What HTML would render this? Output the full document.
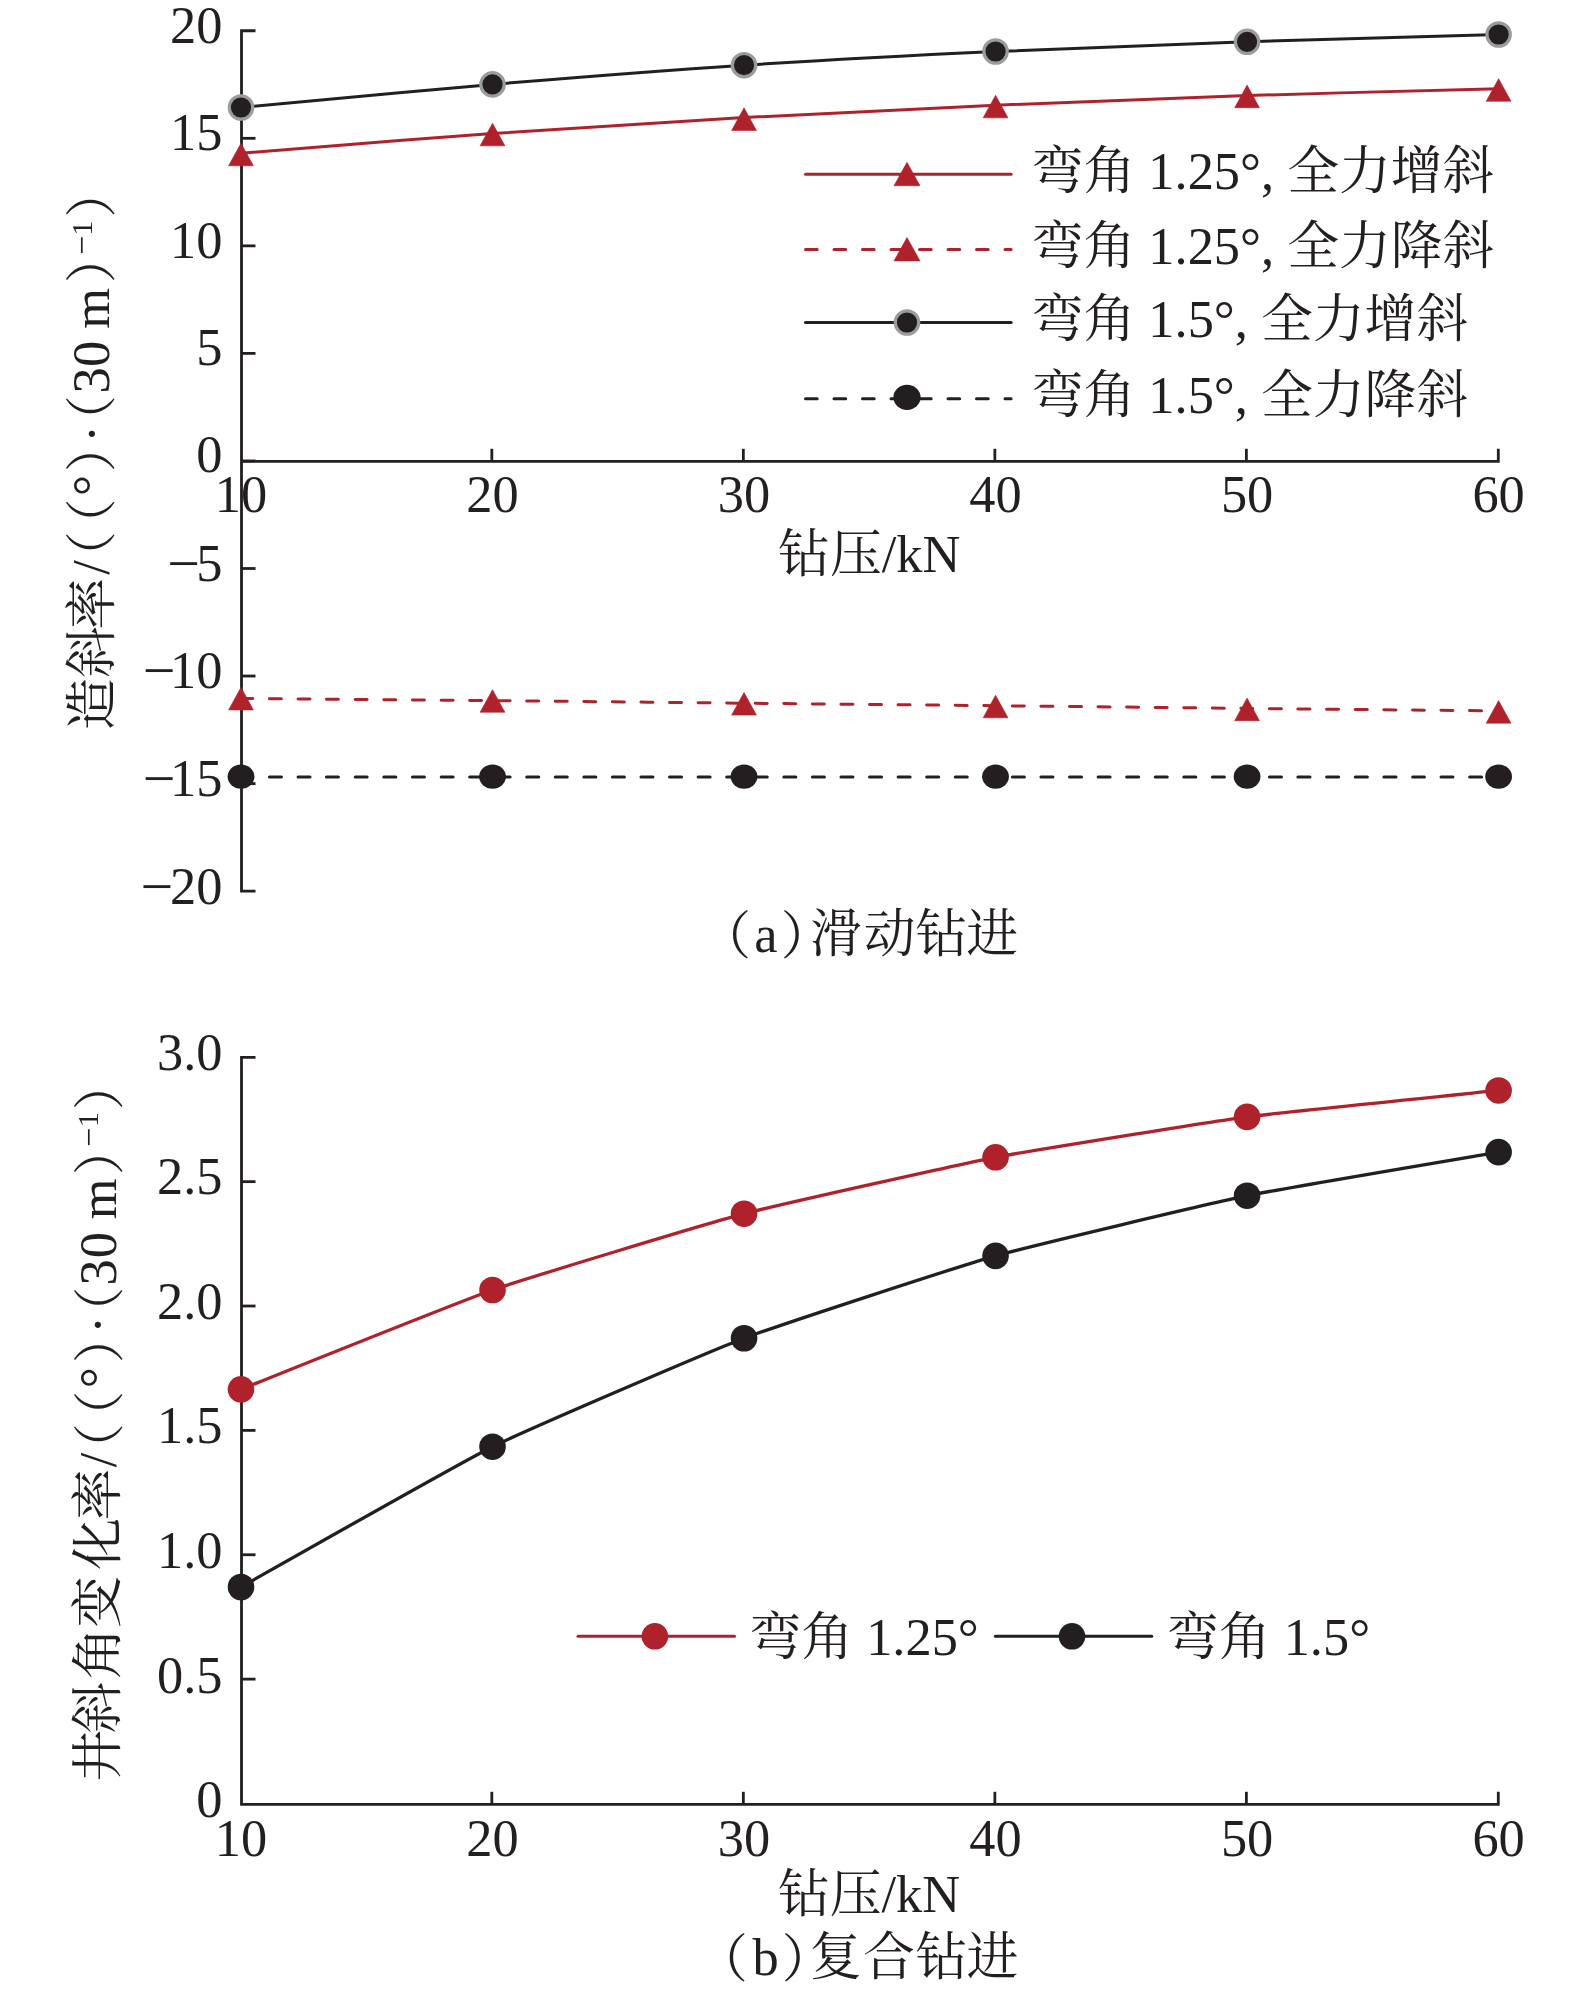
<!DOCTYPE html><html><head><meta charset="utf-8"><title>chart</title><style>html,body{margin:0;padding:0;background:#fff;}svg{display:block;}text{font-family:"Liberation Serif", "Noto Serif CJK SC", serif;fill:#231f20;}</style></head><body>
<svg width="1575" height="1993" viewBox="0 0 1575 1993">
<rect width="1575" height="1993" fill="#fff"/>
<path d="M255.50,30.76 H241.50 V891.12 H255.50" fill="none" stroke="#231f20" stroke-width="2.80"/>
<line x1="241.50" y1="138.31" x2="255.50" y2="138.31" stroke="#231f20" stroke-width="2.80"/>
<line x1="241.50" y1="245.85" x2="255.50" y2="245.85" stroke="#231f20" stroke-width="2.80"/>
<line x1="241.50" y1="353.39" x2="255.50" y2="353.39" stroke="#231f20" stroke-width="2.80"/>
<line x1="241.50" y1="460.94" x2="255.50" y2="460.94" stroke="#231f20" stroke-width="2.80"/>
<line x1="241.50" y1="568.49" x2="255.50" y2="568.49" stroke="#231f20" stroke-width="2.80"/>
<line x1="241.50" y1="676.03" x2="255.50" y2="676.03" stroke="#231f20" stroke-width="2.80"/>
<line x1="241.50" y1="783.58" x2="255.50" y2="783.58" stroke="#231f20" stroke-width="2.80"/>
<path d="M241.50,461.30 H1498.30 V448.80" fill="none" stroke="#231f20" stroke-width="2.80"/>
<line x1="491.82" y1="461.30" x2="491.82" y2="448.80" stroke="#231f20" stroke-width="2.80"/>
<line x1="743.34" y1="461.30" x2="743.34" y2="448.80" stroke="#231f20" stroke-width="2.80"/>
<line x1="994.86" y1="461.30" x2="994.86" y2="448.80" stroke="#231f20" stroke-width="2.80"/>
<line x1="1246.38" y1="461.30" x2="1246.38" y2="448.80" stroke="#231f20" stroke-width="2.80"/>
<text x="222.5" y="42.70" text-anchor="end" font-size="52.4">20</text>
<text x="222.5" y="149.90" text-anchor="end" font-size="52.4">15</text>
<text x="222.5" y="258.10" text-anchor="end" font-size="52.4">10</text>
<text x="222.5" y="365.00" text-anchor="end" font-size="52.4">5</text>
<text x="222.5" y="472.20" text-anchor="end" font-size="52.4">0</text>
<text x="222.5" y="581.20" text-anchor="end" font-size="52.4">5</text>
<text x="167.33" y="583.10" font-size="58.0">−</text>
<text x="222.5" y="688.40" text-anchor="end" font-size="52.4">10</text>
<text x="142.70" y="690.30" font-size="58.0">−</text>
<text x="222.5" y="796.00" text-anchor="end" font-size="52.4">15</text>
<text x="142.70" y="797.90" font-size="58.0">−</text>
<text x="222.5" y="903.70" text-anchor="end" font-size="52.4">20</text>
<text x="140.39" y="905.60" font-size="58.0">−</text>
<text x="241.00" y="511.9" text-anchor="middle" font-size="52.4">10</text>
<text x="492.52" y="511.9" text-anchor="middle" font-size="52.4">20</text>
<text x="744.04" y="511.9" text-anchor="middle" font-size="52.4">30</text>
<text x="995.56" y="511.9" text-anchor="middle" font-size="52.4">40</text>
<text x="1247.08" y="511.9" text-anchor="middle" font-size="52.4">50</text>
<text x="1498.60" y="511.9" text-anchor="middle" font-size="52.4">60</text>
<path d="M241.00,107.50 C282.92,103.65 408.68,91.45 492.52,84.40 C576.36,77.35 660.20,70.68 744.04,65.20 C827.88,59.72 911.72,55.40 995.56,51.50 C1079.40,47.60 1163.24,44.63 1247.08,41.80 C1330.92,38.97 1456.68,35.72 1498.60,34.50" fill="none" stroke="#231f20" stroke-width="3.00"/>
<path d="M241.00,153.20 C282.92,149.92 408.68,139.43 492.52,133.50 C576.36,127.57 660.20,122.32 744.04,117.60 C827.88,112.88 911.72,108.87 995.56,105.20 C1079.40,101.53 1163.24,98.33 1247.08,95.60 C1330.92,92.87 1456.68,89.93 1498.60,88.80" fill="none" stroke="#b0222b" stroke-width="3.00"/>
<path d="M241.00,698.50 C282.92,698.85 408.68,699.82 492.52,700.60 C576.36,701.38 660.20,702.35 744.04,703.20 C827.88,704.05 911.72,704.83 995.56,705.70 C1079.40,706.57 1163.24,707.53 1247.08,708.40 C1330.92,709.27 1456.68,710.48 1498.60,710.90" fill="none" stroke="#b0222b" stroke-width="3.00" stroke-dasharray="12 16.57" stroke-linecap="round"/>
<path d="M241.00,777.10 C282.92,777.10 408.68,777.10 492.52,777.10 C576.36,777.10 660.20,777.10 744.04,777.10 C827.88,777.10 911.72,777.10 995.56,777.10 C1079.40,777.10 1163.24,777.10 1247.08,777.10 C1330.92,777.10 1456.68,777.10 1498.60,777.10" fill="none" stroke="#231f20" stroke-width="3.00" stroke-dasharray="12 16.57" stroke-linecap="round"/>
<circle cx="241.00" cy="107.50" r="11.7" fill="#231f20" stroke="#9a9c9f" stroke-width="3.2"/>
<circle cx="492.52" cy="84.40" r="11.7" fill="#231f20" stroke="#9a9c9f" stroke-width="3.2"/>
<circle cx="744.04" cy="65.20" r="11.7" fill="#231f20" stroke="#9a9c9f" stroke-width="3.2"/>
<circle cx="995.56" cy="51.50" r="11.7" fill="#231f20" stroke="#9a9c9f" stroke-width="3.2"/>
<circle cx="1247.08" cy="41.80" r="11.7" fill="#231f20" stroke="#9a9c9f" stroke-width="3.2"/>
<circle cx="1498.60" cy="34.50" r="11.7" fill="#231f20" stroke="#9a9c9f" stroke-width="3.2"/>
<path d="M241.00,143.20 L253.40,165.80 L228.60,165.80 Z" fill="#b0222b" stroke="#b0222b" stroke-width="0.6" stroke-linejoin="round"/>
<path d="M492.52,123.25 L504.92,145.85 L480.12,145.85 Z" fill="#b0222b" stroke="#b0222b" stroke-width="0.6" stroke-linejoin="round"/>
<path d="M744.04,107.85 L756.44,130.45 L731.64,130.45 Z" fill="#b0222b" stroke="#b0222b" stroke-width="0.6" stroke-linejoin="round"/>
<path d="M995.56,95.25 L1007.96,117.85 L983.16,117.85 Z" fill="#b0222b" stroke="#b0222b" stroke-width="0.6" stroke-linejoin="round"/>
<path d="M1247.08,85.10 L1259.48,107.70 L1234.68,107.70 Z" fill="#b0222b" stroke="#b0222b" stroke-width="0.6" stroke-linejoin="round"/>
<path d="M1498.60,78.70 L1511.00,101.30 L1486.20,101.30 Z" fill="#b0222b" stroke="#b0222b" stroke-width="0.6" stroke-linejoin="round"/>
<path d="M241.00,687.35 L253.40,709.95 L228.60,709.95 Z" fill="#b0222b" stroke="#b0222b" stroke-width="0.6" stroke-linejoin="round"/>
<path d="M492.52,689.65 L504.92,712.25 L480.12,712.25 Z" fill="#b0222b" stroke="#b0222b" stroke-width="0.6" stroke-linejoin="round"/>
<path d="M744.04,692.50 L756.44,715.10 L731.64,715.10 Z" fill="#b0222b" stroke="#b0222b" stroke-width="0.6" stroke-linejoin="round"/>
<path d="M995.56,695.20 L1007.96,717.80 L983.16,717.80 Z" fill="#b0222b" stroke="#b0222b" stroke-width="0.6" stroke-linejoin="round"/>
<path d="M1247.08,698.10 L1259.48,720.70 L1234.68,720.70 Z" fill="#b0222b" stroke="#b0222b" stroke-width="0.6" stroke-linejoin="round"/>
<path d="M1498.60,700.60 L1511.00,723.20 L1486.20,723.20 Z" fill="#b0222b" stroke="#b0222b" stroke-width="0.6" stroke-linejoin="round"/>
<ellipse cx="241.00" cy="776.60" rx="13.40" ry="12.20" fill="#231f20"/>
<ellipse cx="492.52" cy="776.60" rx="13.40" ry="12.20" fill="#231f20"/>
<ellipse cx="744.04" cy="776.60" rx="13.40" ry="12.20" fill="#231f20"/>
<ellipse cx="995.56" cy="776.60" rx="13.40" ry="12.20" fill="#231f20"/>
<ellipse cx="1247.08" cy="776.60" rx="13.40" ry="12.20" fill="#231f20"/>
<ellipse cx="1498.60" cy="776.60" rx="13.40" ry="12.20" fill="#231f20"/>
<line x1="805.50" y1="174.30" x2="1011.10" y2="174.30" stroke="#b0222b" stroke-width="3.00" stroke-linecap="round"/>
<path d="M907.00,162.30 L920.00,185.70 L894.00,185.70 Z" fill="#b0222b" stroke="#b0222b" stroke-width="0.6" stroke-linejoin="round"/>
<text><tspan x="1031.67" y="188.60" font-size="51.8">弯</tspan><tspan x="1083.47" y="188.60" font-size="51.8">角</tspan><tspan x="1148.37" y="188.60" font-size="52.4">1</tspan><tspan x="1174.57" y="188.60" font-size="52.4">.</tspan><tspan x="1187.67" y="188.60" font-size="52.4">2</tspan><tspan x="1213.87" y="188.60" font-size="52.4">5</tspan><tspan x="1240.07" y="188.60" font-size="52.4">°</tspan><tspan x="1261.02" y="188.60" font-size="52.4">,</tspan><tspan x="1287.22" y="188.60" font-size="51.8">全</tspan><tspan x="1339.02" y="188.60" font-size="51.8">力</tspan><tspan x="1390.82" y="188.60" font-size="51.8">增</tspan><tspan x="1442.62" y="188.60" font-size="51.8">斜</tspan></text>
<line x1="805.50" y1="249.50" x2="1011.10" y2="249.50" stroke="#b0222b" stroke-width="3.00" stroke-dasharray="11.7 16.8" stroke-linecap="round"/>
<path d="M907.00,237.50 L920.00,260.90 L894.00,260.90 Z" fill="#b0222b" stroke="#b0222b" stroke-width="0.6" stroke-linejoin="round"/>
<text><tspan x="1031.67" y="263.80" font-size="51.8">弯</tspan><tspan x="1083.47" y="263.80" font-size="51.8">角</tspan><tspan x="1148.37" y="263.80" font-size="52.4">1</tspan><tspan x="1174.57" y="263.80" font-size="52.4">.</tspan><tspan x="1187.67" y="263.80" font-size="52.4">2</tspan><tspan x="1213.87" y="263.80" font-size="52.4">5</tspan><tspan x="1240.07" y="263.80" font-size="52.4">°</tspan><tspan x="1261.02" y="263.80" font-size="52.4">,</tspan><tspan x="1287.22" y="263.80" font-size="51.8">全</tspan><tspan x="1339.02" y="263.80" font-size="51.8">力</tspan><tspan x="1390.82" y="263.80" font-size="51.8">降</tspan><tspan x="1442.62" y="263.80" font-size="51.8">斜</tspan></text>
<line x1="805.50" y1="322.50" x2="1011.10" y2="322.50" stroke="#231f20" stroke-width="3.00" stroke-linecap="round"/>
<circle cx="907.00" cy="322.50" r="11.7" fill="#231f20" stroke="#9a9c9f" stroke-width="3.2"/>
<text><tspan x="1031.67" y="336.80" font-size="51.8">弯</tspan><tspan x="1083.47" y="336.80" font-size="51.8">角</tspan><tspan x="1148.37" y="336.80" font-size="52.4">1</tspan><tspan x="1174.57" y="336.80" font-size="52.4">.</tspan><tspan x="1187.67" y="336.80" font-size="52.4">5</tspan><tspan x="1213.87" y="336.80" font-size="52.4">°</tspan><tspan x="1234.82" y="336.80" font-size="52.4">,</tspan><tspan x="1261.02" y="336.80" font-size="51.8">全</tspan><tspan x="1312.82" y="336.80" font-size="51.8">力</tspan><tspan x="1364.62" y="336.80" font-size="51.8">增</tspan><tspan x="1416.42" y="336.80" font-size="51.8">斜</tspan></text>
<line x1="805.50" y1="398.80" x2="1011.10" y2="398.80" stroke="#231f20" stroke-width="3.00" stroke-dasharray="11.7 16.8" stroke-linecap="round"/>
<ellipse cx="907.00" cy="397.30" rx="13.60" ry="12.60" fill="#231f20"/>
<text><tspan x="1031.67" y="413.10" font-size="51.8">弯</tspan><tspan x="1083.47" y="413.10" font-size="51.8">角</tspan><tspan x="1148.37" y="413.10" font-size="52.4">1</tspan><tspan x="1174.57" y="413.10" font-size="52.4">.</tspan><tspan x="1187.67" y="413.10" font-size="52.4">5</tspan><tspan x="1213.87" y="413.10" font-size="52.4">°</tspan><tspan x="1234.82" y="413.10" font-size="52.4">,</tspan><tspan x="1261.02" y="413.10" font-size="51.8">全</tspan><tspan x="1312.82" y="413.10" font-size="51.8">力</tspan><tspan x="1364.62" y="413.10" font-size="51.8">降</tspan><tspan x="1416.42" y="413.10" font-size="51.8">斜</tspan></text>
<text><tspan x="778.11" y="571.60" font-size="51.8">钻</tspan><tspan x="829.90" y="571.60" font-size="51.8">压</tspan><tspan x="881.70" y="571.60" font-size="52.4">/</tspan><tspan x="896.26" y="571.60" font-size="52.4">k</tspan><tspan x="922.46" y="571.60" font-size="52.4">N</tspan></text>
<text><tspan x="699.18" y="953.50" font-size="51.8">（</tspan><tspan x="754.17" y="952.00" font-size="52.4">a</tspan><tspan x="780.74" y="953.50" font-size="51.8">）</tspan><tspan x="810.02" y="952.00" font-size="51.8">滑</tspan><tspan x="863.74" y="952.00" font-size="51.8">动</tspan><tspan x="915.41" y="952.00" font-size="51.8">钻</tspan><tspan x="966.35" y="952.00" font-size="51.8">进</tspan></text>
<text style="filter:grayscale(1)" transform="translate(109.0,727.7) rotate(-90)"><tspan x="-2.23" y="1.00" font-size="51.8">造</tspan><tspan x="49.65" y="1.00" font-size="51.8">斜</tspan><tspan x="98.02" y="1.00" font-size="51.8">率</tspan><tspan x="153.00" y="0.00" font-size="52.4">/</tspan><tspan x="144.58" y="1.20" font-size="51.8">（</tspan><tspan x="177.48" y="1.20" font-size="51.8">（</tspan><tspan x="231.58" y="0.00" font-size="52.4">°</tspan><tspan x="255.44" y="1.20" font-size="51.8">）</tspan><tspan x="285.19" y="-0.50" font-size="52.4">·</tspan><tspan x="280.58" y="1.20" font-size="51.8">（</tspan><tspan x="334.18" y="0.00" font-size="52.4">3</tspan><tspan x="360.61" y="0.00" font-size="52.4">0</tspan><tspan x="398.90" y="0.00" font-size="52.4">m</tspan><tspan x="444.44" y="1.20" font-size="51.8">）</tspan><tspan x="472.60" y="-15.80" font-size="34.0">−</tspan><tspan x="491.96" y="-17.30" font-size="30.0">1</tspan><tspan x="509.84" y="1.20" font-size="51.8">）</tspan></text>
<path d="M255.50,1057.28 H241.50 V1804.30 H1498.30 V1791.80" fill="none" stroke="#231f20" stroke-width="2.80"/>
<line x1="241.50" y1="1181.65" x2="255.50" y2="1181.65" stroke="#231f20" stroke-width="2.80"/>
<line x1="241.50" y1="1306.02" x2="255.50" y2="1306.02" stroke="#231f20" stroke-width="2.80"/>
<line x1="241.50" y1="1430.39" x2="255.50" y2="1430.39" stroke="#231f20" stroke-width="2.80"/>
<line x1="241.50" y1="1554.76" x2="255.50" y2="1554.76" stroke="#231f20" stroke-width="2.80"/>
<line x1="241.50" y1="1679.13" x2="255.50" y2="1679.13" stroke="#231f20" stroke-width="2.80"/>
<line x1="491.82" y1="1804.30" x2="491.82" y2="1791.80" stroke="#231f20" stroke-width="2.80"/>
<line x1="743.34" y1="1804.30" x2="743.34" y2="1791.80" stroke="#231f20" stroke-width="2.80"/>
<line x1="994.86" y1="1804.30" x2="994.86" y2="1791.80" stroke="#231f20" stroke-width="2.80"/>
<line x1="1246.38" y1="1804.30" x2="1246.38" y2="1791.80" stroke="#231f20" stroke-width="2.80"/>
<text x="222.5" y="1070.10" text-anchor="end" font-size="52.4">3.0</text>
<text x="222.5" y="1193.80" text-anchor="end" font-size="52.4">2.5</text>
<text x="222.5" y="1318.70" text-anchor="end" font-size="52.4">2.0</text>
<text x="222.5" y="1443.40" text-anchor="end" font-size="52.4">1.5</text>
<text x="222.5" y="1568.20" text-anchor="end" font-size="52.4">1.0</text>
<text x="222.5" y="1692.90" text-anchor="end" font-size="52.4">0.5</text>
<text x="222.5" y="1817.30" text-anchor="end" font-size="52.4">0</text>
<text x="241.00" y="1856.3" text-anchor="middle" font-size="52.4">10</text>
<text x="492.52" y="1856.3" text-anchor="middle" font-size="52.4">20</text>
<text x="744.04" y="1856.3" text-anchor="middle" font-size="52.4">30</text>
<text x="995.56" y="1856.3" text-anchor="middle" font-size="52.4">40</text>
<text x="1247.08" y="1856.3" text-anchor="middle" font-size="52.4">50</text>
<text x="1498.60" y="1856.3" text-anchor="middle" font-size="52.4">60</text>
<path d="M241.00,1389.30 C257.77,1382.68 458.98,1301.71 492.52,1290.00 C526.06,1278.29 710.50,1222.55 744.04,1213.70 C777.58,1204.85 962.02,1163.75 995.56,1157.30 C1029.10,1150.85 1213.54,1121.36 1247.08,1116.90 C1280.62,1112.44 1481.83,1092.21 1498.60,1090.45" fill="none" stroke="#b0222b" stroke-width="3.3"/>
<path d="M241.00,1587.00 C257.77,1577.65 458.98,1463.28 492.52,1446.70 C526.06,1430.12 710.50,1350.97 744.04,1338.25 C777.58,1325.53 962.02,1265.35 995.56,1255.85 C1029.10,1246.35 1213.54,1202.61 1247.08,1195.70 C1280.62,1188.79 1481.83,1155.05 1498.60,1152.15" fill="none" stroke="#231f20" stroke-width="3.3"/>
<circle cx="241.00" cy="1389.30" r="13.30" fill="#b0222b"/>
<circle cx="492.52" cy="1290.00" r="13.30" fill="#b0222b"/>
<circle cx="744.04" cy="1213.70" r="13.30" fill="#b0222b"/>
<circle cx="995.56" cy="1157.30" r="13.30" fill="#b0222b"/>
<circle cx="1247.08" cy="1116.90" r="13.30" fill="#b0222b"/>
<circle cx="1498.60" cy="1090.45" r="13.30" fill="#b0222b"/>
<circle cx="241.00" cy="1587.00" r="13.30" fill="#231f20"/>
<circle cx="492.52" cy="1446.70" r="13.30" fill="#231f20"/>
<circle cx="744.04" cy="1338.25" r="13.30" fill="#231f20"/>
<circle cx="995.56" cy="1255.85" r="13.30" fill="#231f20"/>
<circle cx="1247.08" cy="1195.70" r="13.30" fill="#231f20"/>
<circle cx="1498.60" cy="1152.15" r="13.30" fill="#231f20"/>
<line x1="578.00" y1="1636.30" x2="734.50" y2="1636.30" stroke="#b0222b" stroke-width="3.00" stroke-linecap="round"/>
<circle cx="654.90" cy="1636.30" r="13.30" fill="#b0222b"/>
<text><tspan x="749.47" y="1655.30" font-size="51.8">弯</tspan><tspan x="801.27" y="1655.30" font-size="51.8">角</tspan><tspan x="866.17" y="1655.30" font-size="52.4">1</tspan><tspan x="892.37" y="1655.30" font-size="52.4">.</tspan><tspan x="905.47" y="1655.30" font-size="52.4">2</tspan><tspan x="931.67" y="1655.30" font-size="52.4">5</tspan><tspan x="957.87" y="1655.30" font-size="52.4">°</tspan></text>
<line x1="995.40" y1="1636.30" x2="1151.80" y2="1636.30" stroke="#231f20" stroke-width="3.00" stroke-linecap="round"/>
<circle cx="1072.00" cy="1636.30" r="13.30" fill="#231f20"/>
<text><tspan x="1166.97" y="1655.30" font-size="51.8">弯</tspan><tspan x="1218.77" y="1655.30" font-size="51.8">角</tspan><tspan x="1283.67" y="1655.30" font-size="52.4">1</tspan><tspan x="1309.87" y="1655.30" font-size="52.4">.</tspan><tspan x="1322.97" y="1655.30" font-size="52.4">5</tspan><tspan x="1349.17" y="1655.30" font-size="52.4">°</tspan></text>
<text><tspan x="777.91" y="1911.60" font-size="51.8">钻</tspan><tspan x="829.71" y="1911.60" font-size="51.8">压</tspan><tspan x="881.50" y="1911.60" font-size="52.4">/</tspan><tspan x="896.06" y="1911.60" font-size="52.4">k</tspan><tspan x="922.26" y="1911.60" font-size="52.4">N</tspan></text>
<text><tspan x="696.08" y="1976.50" font-size="51.8">（</tspan><tspan x="752.50" y="1975.00" font-size="52.4">b</tspan><tspan x="781.74" y="1976.50" font-size="51.8">）</tspan><tspan x="809.65" y="1975.00" font-size="51.8">复</tspan><tspan x="862.94" y="1975.00" font-size="51.8">合</tspan><tspan x="915.50" y="1975.00" font-size="51.8">钻</tspan><tspan x="966.55" y="1975.00" font-size="51.8">进</tspan></text>
<text style="filter:grayscale(1)" transform="translate(116.3,1779.3) rotate(-90)"><tspan x="-2.28" y="0.00" font-size="51.8">井</tspan><tspan x="45.85" y="0.00" font-size="51.8">斜</tspan><tspan x="99.92" y="0.00" font-size="51.8">角</tspan><tspan x="151.49" y="0.00" font-size="51.8">变</tspan><tspan x="209.66" y="0.00" font-size="51.8">化</tspan><tspan x="258.72" y="0.00" font-size="51.8">率</tspan><tspan x="312.00" y="0.00" font-size="52.4">/</tspan><tspan x="304.38" y="1.20" font-size="51.8">（</tspan><tspan x="336.88" y="1.20" font-size="51.8">（</tspan><tspan x="391.18" y="0.00" font-size="52.4">°</tspan><tspan x="416.14" y="1.20" font-size="51.8">）</tspan><tspan x="445.89" y="-1.00" font-size="52.4">·</tspan><tspan x="440.78" y="1.20" font-size="51.8">（</tspan><tspan x="493.78" y="0.00" font-size="52.4">3</tspan><tspan x="521.01" y="0.00" font-size="52.4">0</tspan><tspan x="560.00" y="0.00" font-size="52.4">m</tspan><tspan x="604.14" y="1.20" font-size="51.8">）</tspan><tspan x="632.40" y="-16.40" font-size="34.0">−</tspan><tspan x="652.06" y="-17.90" font-size="30.0">1</tspan><tspan x="668.94" y="1.20" font-size="51.8">）</tspan></text>
</svg></body></html>
